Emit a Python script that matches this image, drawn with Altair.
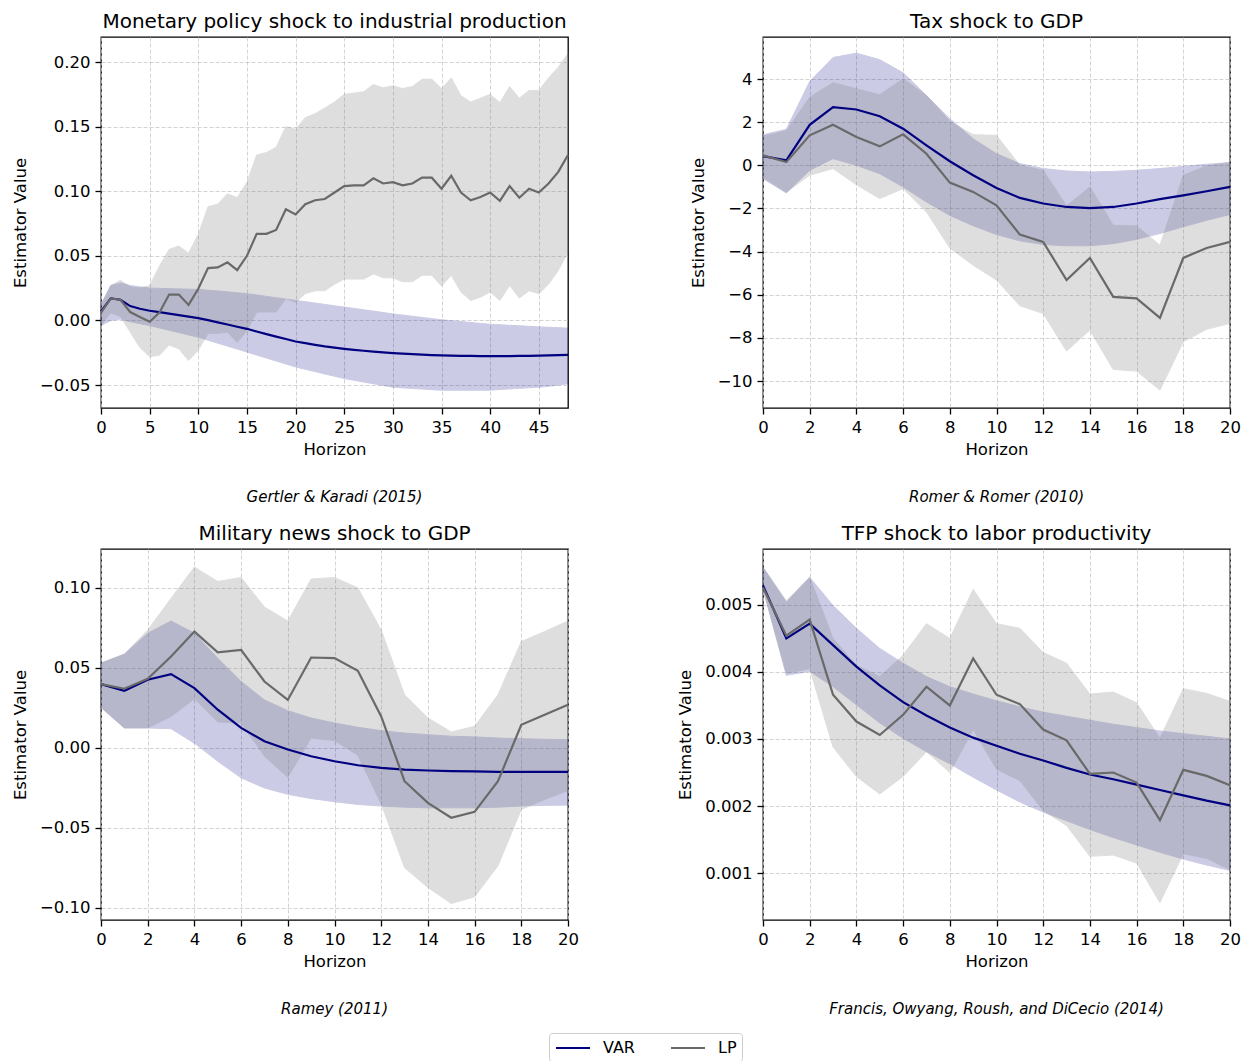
import altair as alt
import pandas as pd

# ---------------- Gertler & Karadi (2015): monetary policy shock -> IP
gk_h = list(range(49))
gk_var_mid = [0.007, 0.017, 0.016, 0.0111, 0.0090, 0.0075, 0.0064, 0.0053, 0.0041, 0.0030,
              0.0018, 0.0002, -0.0015, -0.0032, -0.0049, -0.0065, -0.0086, -0.0106, -0.0125, -0.0144,
              -0.0163, -0.0176, -0.0189, -0.0201, -0.0211, -0.0220, -0.0228, -0.0235, -0.0242, -0.0248,
              -0.0253, -0.0257, -0.0261, -0.0265, -0.0268, -0.0271, -0.0273, -0.0274, -0.0275, -0.0276,
              -0.0276, -0.0276, -0.0276, -0.0275, -0.0274, -0.0273, -0.0271, -0.0269, -0.0267]
gk_var_hi = [0.012, 0.027, 0.029, 0.027, 0.026, 0.025, 0.0248, 0.0246, 0.0244, 0.0242,
             0.024, 0.0234, 0.0228, 0.0221, 0.0214, 0.0207, 0.0197, 0.0186, 0.0176, 0.0165,
             0.0155, 0.0145, 0.0134, 0.0124, 0.0113, 0.0103, 0.0093, 0.0082, 0.0072, 0.0061,
             0.005, 0.0041, 0.0032, 0.0023, 0.0014, 0.0005, -0.0002, -0.0009, -0.0016, -0.0023,
             -0.003, -0.0034, -0.0038, -0.0042, -0.0046, -0.005, -0.0053, -0.0056, -0.006]
gk_var_lo = [-0.004, 0.0, 0.001, -0.001, -0.0025, -0.004, -0.0058, -0.0076, -0.0094, -0.0112,
             -0.013, -0.0153, -0.0176, -0.0199, -0.0222, -0.0245, -0.0268, -0.0291, -0.0314, -0.0337,
             -0.036, -0.0378, -0.0396, -0.0414, -0.0432, -0.045, -0.0463, -0.0477, -0.049, -0.0504,
             -0.0517, -0.0522, -0.0527, -0.0531, -0.0536, -0.054, -0.054, -0.054, -0.054, -0.054,
             -0.054, -0.0535, -0.053, -0.0526, -0.0521, -0.0517, -0.051, -0.050, -0.049]
gk_lp_mid = [0.006, 0.017, 0.016, 0.0065, 0.0026, -0.001, 0.006, 0.020, 0.020, 0.012,
             0.0245, 0.0405, 0.041, 0.045, 0.039, 0.050, 0.067, 0.067, 0.070, 0.086,
             0.082, 0.090, 0.093, 0.094, 0.099, 0.104, 0.1046, 0.1046, 0.110, 0.106,
             0.107, 0.1046, 0.106, 0.1105, 0.1105, 0.102, 0.112, 0.099, 0.093, 0.0955,
             0.099, 0.0925, 0.104, 0.095, 0.102, 0.099, 0.106, 0.115, 0.128]
gk_lp_hi = [0.012, 0.027, 0.031, 0.026, 0.025, 0.027, 0.042, 0.055, 0.0576, 0.052,
            0.0666, 0.088, 0.090, 0.098, 0.095, 0.107, 0.128, 0.130, 0.134, 0.150,
            0.148, 0.157, 0.160, 0.1645, 0.169, 0.175, 0.176, 0.177, 0.1826, 0.180,
            0.1816, 0.1795, 0.181, 0.1867, 0.1867, 0.1795, 0.1877, 0.174, 0.169, 0.172,
            0.175, 0.1686, 0.181, 0.172, 0.178, 0.178, 0.1877, 0.196, 0.2066]
gk_lp_lo = [-0.004, 0.006, 0.003, -0.009, -0.021, -0.028, -0.027, -0.019, -0.022, -0.031,
            -0.023, -0.010, -0.010, -0.009, -0.017, -0.008, 0.0065, 0.0065, 0.0065, 0.017,
            0.014, 0.0207, 0.023, 0.023, 0.028, 0.032, 0.032, 0.032, 0.036, 0.033,
            0.033, 0.030, 0.030, 0.035, 0.035, 0.0266, 0.035, 0.022, 0.0155, 0.018,
            0.022, 0.0155, 0.027, 0.0173, 0.023, 0.0207, 0.028, 0.0387, 0.053]

# ---------------- Romer & Romer (2010): tax shock -> GDP
rr_h = list(range(21))
rr_var_mid = [0.43, 0.23, 1.88, 2.70, 2.59, 2.28, 1.70, 0.93, 0.19, -0.46, -1.05,
              -1.51, -1.77, -1.93, -1.98, -1.93, -1.77, -1.57, -1.39, -1.20, -1.00]
rr_var_hi = [1.42, 1.67, 3.89, 5.00, 5.20, 4.90, 4.29, 3.24, 2.16, 1.23, 0.54,
             0.08, -0.15, -0.26, -0.31, -0.28, -0.23, -0.15, -0.05, 0.05, 0.12]
rr_var_lo = [-0.62, -1.28, -0.23, 0.31, 0.0, -0.39, -1.0, -1.7, -2.32, -2.8, -3.21,
             -3.5, -3.67, -3.73, -3.73, -3.63, -3.43, -3.16, -2.85, -2.55, -2.28]
rr_lp_mid = [0.46, 0.15, 1.39, 1.88, 1.31, 0.88, 1.44, 0.54, -0.8, -1.23, -1.85,
             -3.21, -3.55, -5.32, -4.29, -6.10, -6.17, -7.07, -4.29, -3.83, -3.55]
rr_lp_hi = [1.35, 1.6, 3.16, 3.83, 3.55, 3.27, 4.01, 3.24, 2.04, 1.42, 1.39,
            0.0, -0.23, -1.88, -1.0, -2.78, -2.81, -3.7, -0.46, -0.03, 0.15]
rr_lp_lo = [-0.55, -1.25, -0.46, -0.15, -0.9, -1.54, -1.08, -2.16, -3.83, -4.63, -5.32,
            -6.51, -6.87, -8.61, -7.64, -9.46, -9.54, -10.42, -8.18, -7.6, -7.33]

# ---------------- Ramey (2011): military news shock -> GDP
ra_h = list(range(21))
ra_var_mid = [0.0399, 0.0357, 0.0426, 0.0461, 0.0374, 0.0239, 0.0125, 0.0042, -0.001, -0.0052, -0.0083,
              -0.0108, -0.0125, -0.0135, -0.0141, -0.0145, -0.0147, -0.0149, -0.015, -0.015, -0.015]
ra_var_hi = [0.053, 0.0586, 0.0717, 0.0793, 0.0717, 0.056, 0.0415, 0.030, 0.0233, 0.0187, 0.0156,
             0.0129, 0.0108, 0.0093, 0.0083, 0.0073, 0.0069, 0.0062, 0.0058, 0.0054, 0.0052]
ra_var_lo = [0.0253, 0.0125, 0.0125, 0.012, 0.003, -0.0083, -0.0187, -0.025, -0.029, -0.0316, -0.0336,
             -0.0353, -0.0363, -0.037, -0.0374, -0.0374, -0.0374, -0.037, -0.0363, -0.0359, -0.0357]
ra_lp_mid = [0.0399, 0.037, 0.0432, 0.0571, 0.0727, 0.0598, 0.0613, 0.0415, 0.030, 0.0565, 0.0561,
             0.0482, 0.0197, -0.0208, -0.0343, -0.0436, -0.0399, -0.0208, 0.0145, 0.0208, 0.027]
ra_lp_hi = [0.053, 0.0586, 0.0737, 0.0935, 0.113, 0.104, 0.1065, 0.088, 0.0793, 0.1055, 0.1065,
            0.100, 0.0737, 0.0332, 0.0187, 0.010, 0.0135, 0.0332, 0.0665, 0.0727, 0.0793]
ra_lp_lo = [0.0253, 0.0125, 0.0125, 0.0197, 0.0307, 0.0162, 0.0156, -0.0052, -0.0183, 0.0062, 0.0046,
            -0.0046, -0.0349, -0.0748, -0.0872, -0.0972, -0.093, -0.0737, -0.0384, -0.0322, -0.0266]

# ---------------- Francis, Owyang, Roush & DiCecio (2014): TFP shock -> labor productivity
fo_h = list(range(21))
fo_var_mid = [0.00529, 0.00450, 0.00472, 0.00440, 0.00408, 0.00380, 0.00355, 0.00335, 0.00317, 0.00302, 0.00290,
              0.00278, 0.00268, 0.00257, 0.00247, 0.00240, 0.00232, 0.00224, 0.00216, 0.00208, 0.00201]
fo_var_hi = [0.00556, 0.00504, 0.00541, 0.00499, 0.00465, 0.00435, 0.00413, 0.00393, 0.00378, 0.00367, 0.00357,
             0.00348, 0.00340, 0.00334, 0.00328, 0.00322, 0.00317, 0.00312, 0.00308, 0.00304, 0.00300]
fo_var_lo = [0.00524, 0.00395, 0.00401, 0.00378, 0.00351, 0.00324, 0.00301, 0.00281, 0.00263, 0.00243, 0.00224,
             0.00206, 0.00191, 0.00178, 0.00165, 0.00153, 0.00142, 0.00131, 0.00121, 0.00112, 0.00104]
fo_lp_mid = [0.00526, 0.00454, 0.00478, 0.00366, 0.00326, 0.00306, 0.00336, 0.00378, 0.00350, 0.00420, 0.00366,
             0.00352, 0.00314, 0.00298, 0.00248, 0.00250, 0.00235, 0.00179, 0.00254, 0.00245, 0.00231]
fo_lp_hi = [0.00556, 0.00506, 0.00541, 0.00450, 0.00410, 0.00393, 0.00425, 0.00472, 0.00450, 0.00523, 0.00472,
            0.00465, 0.00429, 0.00413, 0.00367, 0.00370, 0.00354, 0.00301, 0.00375, 0.00368, 0.00356]
fo_lp_lo = [0.00524, 0.00398, 0.00405, 0.00288, 0.00244, 0.00218, 0.00244, 0.00281, 0.00250, 0.00314, 0.00255,
            0.00238, 0.00193, 0.00171, 0.00125, 0.00127, 0.00115, 0.00056, 0.00129, 0.00122, 0.00105]

W, H = 467, 371
FONT = "DejaVu Sans"
NAVY = "#000080"
DIMGRAY = "#696969"


def frame(h, mid, lo, hi, name):
    return pd.DataFrame({"h": h, "mid": mid, "lo": lo, "hi": hi, "est": name})


def panel(title, caption, h, var, lp, x_max, x_ticks, y_dom, y_ticks, y_fmt):
    df_var = frame(h, *var, "VAR")
    df_lp = frame(h, *lp, "LP")
    both = pd.concat([df_var, df_lp], ignore_index=True)

    x = alt.X("h:Q", scale=alt.Scale(domain=[0, x_max], nice=False, zero=False),
              axis=alt.Axis(values=x_ticks, format="d", title="Horizon"))

    def y(field):
        return alt.Y(field, type="quantitative",
                     scale=alt.Scale(domain=y_dom, nice=False, zero=False),
                     axis=alt.Axis(values=y_ticks, format=y_fmt, title="Estimator Value"))

    band_var = alt.Chart(df_var).mark_area(
        color=NAVY, opacity=0.2, stroke=NAVY, strokeWidth=1
    ).encode(x=x, y=y("lo"), y2="hi")
    band_lp = alt.Chart(df_lp).mark_area(
        color="#808080", opacity=0.25, stroke="#808080", strokeWidth=1
    ).encode(x=x, y=y("lo"), y2="hi")

    lines = alt.Chart(both).mark_line(strokeWidth=2.2).encode(
        x=x,
        y=y("mid"),
        detail="est:N",
        color=alt.Color(
            "est:N",
            scale=alt.Scale(domain=["VAR", "LP"], range=[NAVY, DIMGRAY]),
            legend=alt.Legend(
                title=None, orient="none", direction="horizontal",
                legendX=448, legendY=996,
                # a long horizontal stroke inside a short row
                symbolType="M-2,0H2", symbolSize=289, symbolStrokeWidth=2.2,
                symbolOffset=9, symbolFillColor="transparent",
                labelFont=FONT, labelFontSize=16, labelColor="black",
                labelOffset=20, columnPadding=31, padding=5,
                fillColor="white", strokeColor="#cccccc", cornerRadius=3,
            ),
        ),
    )

    cap = alt.Chart(pd.DataFrame({"t": [caption]})).mark_text(
        font=FONT, fontSize=15, fontStyle="italic", color="black", baseline="middle"
    ).encode(x=alt.value(W / 2), y=alt.value(H + 89), text="t:N")

    return alt.layer(band_var, band_lp, lines, cap).properties(
        width=W, height=H,
        title=alt.TitleParams(title, anchor="middle", offset=-11, baseline="alphabetic"),
    )


p1 = panel("Monetary policy shock to industrial production", "Gertler & Karadi (2015)",
           gk_h, (gk_var_mid, gk_var_lo, gk_var_hi), (gk_lp_mid, gk_lp_lo, gk_lp_hi),
           48, list(range(0, 46, 5)), [-0.0678, 0.2194],
           [-0.05, 0.0, 0.05, 0.10, 0.15, 0.20], ".2f")
p2 = panel("Tax shock to GDP", "Romer & Romer (2010)",
           rr_h, (rr_var_mid, rr_var_lo, rr_var_hi), (rr_lp_mid, rr_lp_lo, rr_lp_hi),
           20, list(range(0, 21, 2)), [-11.25, 5.95],
           [-10, -8, -6, -4, -2, 0, 2, 4], "d")
p3 = panel("Military news shock to GDP", "Ramey (2011)",
           ra_h, (ra_var_mid, ra_var_lo, ra_var_hi), (ra_lp_mid, ra_lp_lo, ra_lp_hi),
           20, list(range(0, 21, 2)), [-0.1075, 0.1243],
           [-0.10, -0.05, 0.0, 0.05, 0.10], ".2f")
p4 = panel("TFP shock to labor productivity", "Francis, Owyang, Roush, and DiCecio (2014)",
           fo_h, (fo_var_mid, fo_var_lo, fo_var_hi), (fo_lp_mid, fo_lp_lo, fo_lp_hi),
           20, list(range(0, 21, 2)), [0.000301, 0.005833],
           [0.001, 0.002, 0.003, 0.004, 0.005], ".3f")

chart = alt.concat(
    p1, p2, p3, p4, columns=2, spacing={"row": 141, "column": 195}, bounds="flush"
).resolve_scale(
    x="independent", y="independent", color="shared"
).resolve_legend(
    color="shared"
).properties(
    padding={"left": 11, "top": 11, "right": 5, "bottom": 0},
    background="white",
).configure_view(
    stroke="black", strokeWidth=1.3
).configure_axis(
    grid=True, gridColor="#c8c8c8", gridDash=[4, 2], gridWidth=0.8,
    domain=False, ticks=True, tickColor="black", tickSize=6, tickWidth=1.3,
    labelFont=FONT, labelFontSize=16.5, labelColor="black", labelPadding=5,
    labelFlush=False, labelOverlap=False,
    titleFont=FONT, titleFontSize=16.5, titleFontWeight="normal", titleColor="black",
).configure_axisX(
    titlePadding=6
).configure_axisY(
    titlePadding=11
).configure_title(
    font=FONT, fontSize=20, fontWeight="normal", color="black"
)

chart.save("out.html", embed_options={"renderer": "svg", "actions": False})
